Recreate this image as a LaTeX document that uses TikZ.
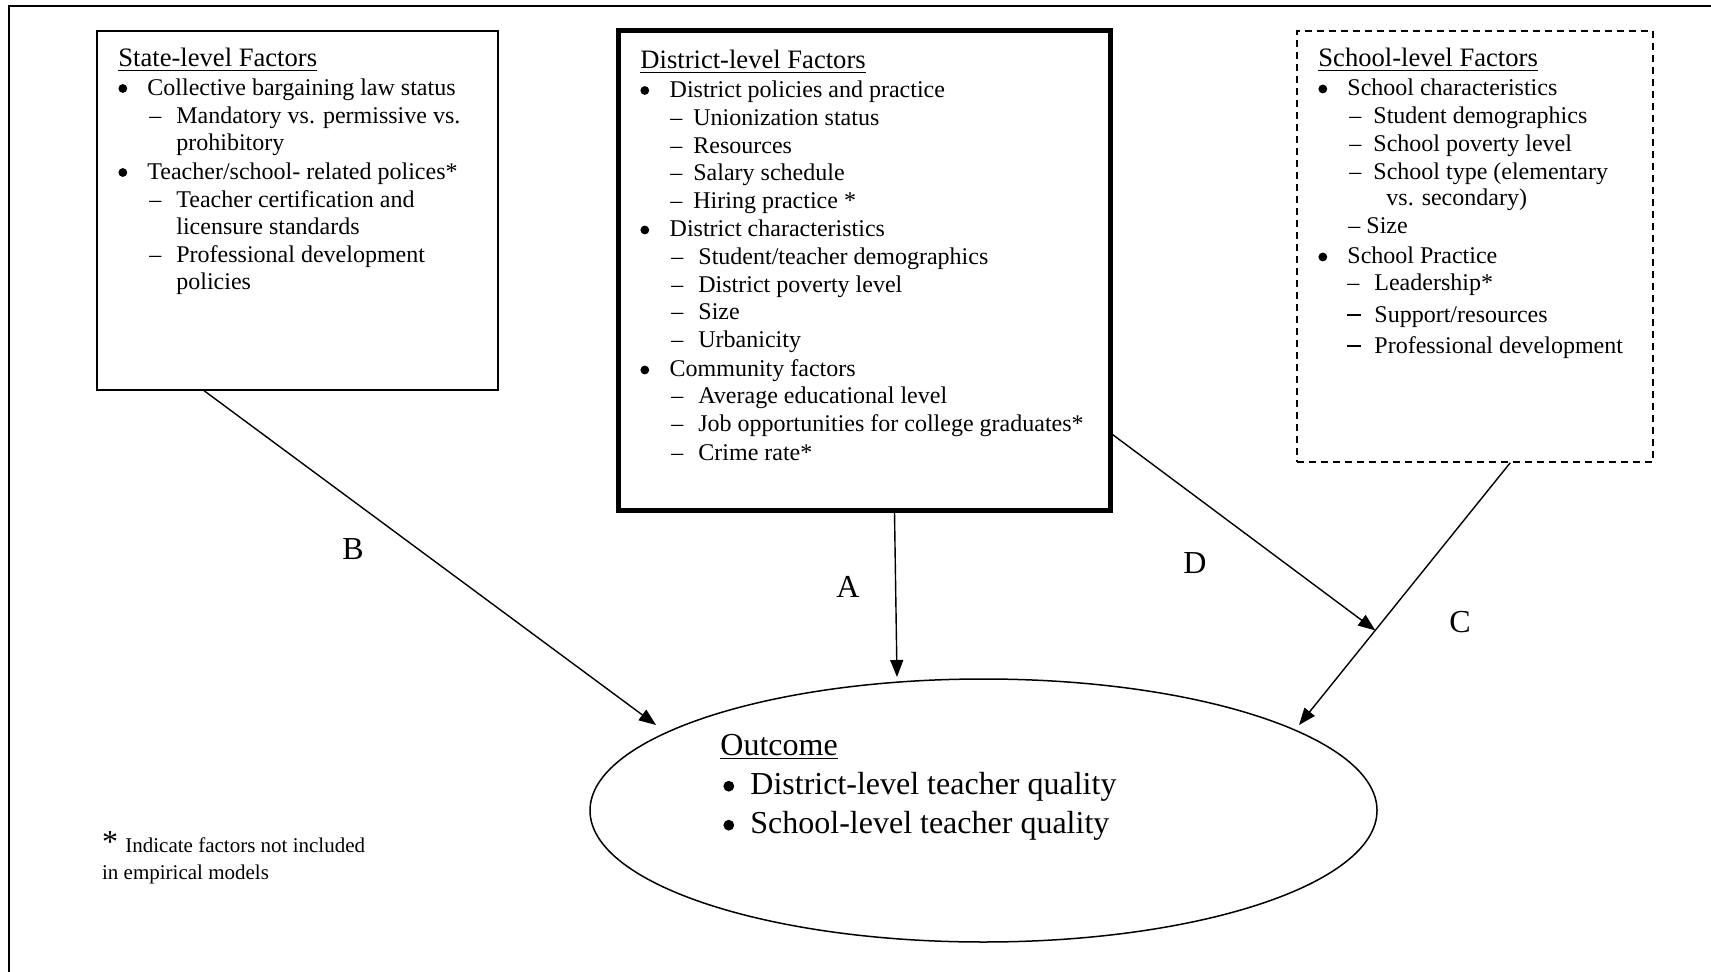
\documentclass[tikz,border=0pt]{standalone}
\usepackage{fontspec}
\setmainfont{Liberation Serif}
\usetikzlibrary{arrows.meta,calc,shapes.geometric}
\newcommand\bul[2]{\raisebox{#1}{\tikz\fill (0,0) circle (#2);}}
\newcommand\bitem[2][14.5pt]{\makebox[#1][l]{\bul{1.3pt}{2.2pt}}#2}
\newcommand\obitem[1]{\makebox[13.5pt][l]{\bul{1.2pt}{2.7pt}}#1}
\newcommand\ditem[2][13.5pt]{\makebox[#1][l]{–}#2}
\newcommand\mitem[2][13.5pt]{\makebox[#1][l]{\rule[3.4pt]{6.8pt}{0.9pt}}#2}
\tikzset{
  txt/.style={anchor=base west, inner sep=0pt, font=\fontsize{12}{14}\selectfont},
  ttl/.style={anchor=base west, inner sep=0pt, font=\fontsize{13.3}{16}\selectfont},
  big/.style={anchor=base west, inner sep=0pt, font=\fontsize{16}{19}\selectfont},
  lbl/.style={inner sep=0pt, font=\fontsize{16}{19}\selectfont},
  note/.style={anchor=base west, inner sep=0pt, font=\fontsize{10.5}{13}\selectfont},
  boxa/.style={draw, line width=0.8pt, inner sep=0pt},
  arr/.style={line width=0.7pt, -{Triangle[length=8.5pt,width=6.5pt]}}
}
\begin{document}
\begin{tikzpicture}[x=0.5pt,y=-0.5pt]
\useasboundingbox[fill=white] (0,0) rectangle (1711,972);
\draw[line width=1pt] (9,972) -- (9,6) -- (1711,6);

% boxes
\node[boxa, minimum width=200.5pt, minimum height=179.5pt] (state) at (297.5,210.5) {};
\node[draw, line width=2.5pt, inner sep=0pt, minimum width=246pt, minimum height=239.5pt] (dist) at (864,270.5) {};
\node[boxa, dash pattern=on 3.5pt off 2.5pt, minimum width=178pt, minimum height=215.5pt] (school) at (1475,246.5) {};
\node[draw, ellipse, line width=0.75pt, inner sep=0pt, minimum width=393.5pt, minimum height=131.5pt] (outcome) at (983.5,810.5) {};

% state text
\node[ttl] (s0) at (118,67) {\underline{State-level Factors}};
\node[txt] (s1) at (118,95.5) {\bitem{Collective bargaining law status}};
\node[txt] (s2) at (149,123.5) {\ditem{Mandatory vs. permissive vs.}};
\node[txt] (s3) at (176,151) {prohibitory};
\node[txt] (s4) at (118,179.5) {\bitem{Teacher/school- related polices*}};
\node[txt] (s5) at (149,208) {\ditem{Teacher certification and}};
\node[txt] (s6) at (176,234.5) {licensure standards};
\node[txt] (s7) at (149,263) {\ditem{Professional development}};
\node[txt] (s8) at (176,289.5) {policies};

% district text
\node[ttl] (d0) at (640,69) {\underline{District-level Factors}};
\node[txt] (d1) at (640,97.5) {\bitem[14.65pt]{District policies and practice}};
\node[txt] (d2) at (670,126) {\ditem[11.5pt]{Unionization status}};
\node[txt] (d3) at (670,153.5) {\ditem[11.5pt]{Resources}};
\node[txt] (d4) at (670,181) {\ditem[11.5pt]{Salary schedule}};
\node[txt] (d5) at (670,209) {\ditem[11.5pt]{Hiring practice *}};
\node[txt] (d6) at (640,237) {\bitem[14.65pt]{District characteristics}};
\node[txt] (d7) at (671,265) {\ditem{Student/teacher demographics}};
\node[txt] (d8) at (671,292.5) {\ditem{District poverty level}};
\node[txt] (d9) at (671,320) {\ditem{Size}};
\node[txt] (d10) at (671,348) {\ditem{Urbanicity}};
\node[txt] (d11) at (640,377) {\bitem[14.65pt]{Community factors}};
\node[txt] (d12) at (671,404) {\ditem{Average educational level}};
\node[txt] (d13) at (671,432) {\ditem{Job opportunities for college graduates*}};
\node[txt] (d14) at (671,460) {\ditem{Crime rate*}};

% school text
\node[ttl] (c0) at (1318,67) {\underline{School-level Factors}};
\node[txt] (c1) at (1318,96) {\bitem{School characteristics}};
\node[txt] (c2) at (1349,124) {\ditem[12pt]{Student demographics}};
\node[txt] (c3) at (1349,151.5) {\ditem[12pt]{School poverty level}};
\node[txt] (c4) at (1349,179.5) {\ditem[12pt]{School type (elementary}};
\node[txt] (c5) at (1386,206) {vs. secondary)};
\node[txt] (c6) at (1348,233.5) {– Size};
\node[txt] (c7) at (1318,264) {\bitem{School Practice}};
\node[txt] (c8) at (1347,290.5) {\ditem{Leadership*}};
\node[txt] (c9) at (1347,322.5) {\mitem{Support/resources}};
\node[txt] (c10) at (1347,354) {\mitem{Professional development}};

% outcome text
\node[big] (o0) at (720,755.5) {\underline{Outcome}};
\node[big] (o1) at (723,794) {\obitem{District-level teacher quality}};
\node[big] (o2) at (723,833) {\obitem{School-level teacher quality}};

% footnote
\node[anchor=base west, inner sep=0pt, font=\fontsize{16}{19}\selectfont] (fa) at (101.7,852.5) {*};
\node[note] (f1) at (125,852.5) {Indicate factors not included};
\node[note] (f2) at (101.7,879) {in empirical models};

% connectors
\coordinate (bs) at ($(state.south west)+(108,0)$);
\coordinate (btip) at (656,725);
\coordinate (as) at ($(dist.south west)+(279,0)$);
\coordinate (atip) at (897,677);
\coordinate (ds) at ($(dist.north east)+(0,406)$);
\coordinate (cs) at ($(school.south west)+(214,0)$);
\coordinate (ctip) at (1299,725);
\path (cs) -- (ctip) coordinate[pos=0.639] (dmeet);

\draw[arr] (bs) -- (btip);
\draw[arr] (as) -- (atip);
\draw[arr] (cs) -- (ctip);
\draw[arr] (ds) -- (dmeet);

% labels
\node[lbl] (lb) at (353,549) {B};
\node[lbl] (la) at (848,587) {A};
\node[lbl] (ld) at (1195,563) {D};
\node[lbl] (lc) at (1460,622) {C};
\end{tikzpicture}
\end{document}
